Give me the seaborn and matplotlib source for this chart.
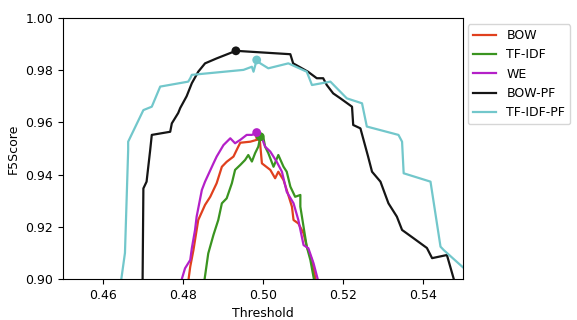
import pandas as pd
import seaborn as sns
import matplotlib.pyplot as plt

# series (threshold, F5 score)
bow_x = [0.4813, 0.4818, 0.4826, 0.4838, 0.4855, 0.4868, 0.4884, 0.4897, 0.4909, 0.4926,
         0.4938, 0.4943, 0.4968, 0.4984, 0.4991, 0.4997, 0.5018, 0.5030, 0.5038, 0.5051,
         0.5059, 0.5072, 0.5076, 0.5088, 0.5101, 0.5109, 0.5122, 0.5132]
bow_y = [0.899, 0.9047, 0.9111, 0.9226, 0.9284, 0.9315, 0.9367, 0.9430, 0.9449, 0.9469,
         0.9507, 0.9522, 0.9526, 0.9533, 0.9545, 0.9443, 0.9418, 0.9386, 0.9411, 0.9379,
         0.9341, 0.9277, 0.9226, 0.9213, 0.9175, 0.9124, 0.9073, 0.899]

tfidf_x = [0.4853, 0.4863, 0.4876, 0.4888, 0.4897, 0.4909, 0.4922, 0.4930, 0.4943, 0.4955,
           0.4963, 0.4972, 0.4980, 0.4988, 0.4993, 0.5001, 0.5005, 0.5013, 0.5026, 0.5038,
           0.5051, 0.5059, 0.5068, 0.5080, 0.5093, 0.5093, 0.5101, 0.5109, 0.5118, 0.5128]
tfidf_y = [0.899, 0.9098, 0.9169, 0.9226, 0.9290, 0.9309, 0.9367, 0.9418, 0.9437, 0.9456,
           0.9475, 0.9450, 0.9482, 0.9507, 0.9545, 0.9539, 0.9507, 0.9482, 0.9430, 0.9475,
           0.9430, 0.9411, 0.9354, 0.9315, 0.9322, 0.9277, 0.9200, 0.9124, 0.9073, 0.899]

we_x = [0.4795, 0.4805, 0.4818, 0.4822, 0.4830, 0.4834, 0.4847, 0.4855, 0.4876, 0.4884,
        0.4901, 0.4918, 0.4930, 0.4943, 0.4959, 0.4972, 0.4984, 0.4997, 0.5005, 0.5018,
        0.5034, 0.5047, 0.5059, 0.5076, 0.5088, 0.5101, 0.5113, 0.5126, 0.5138]
we_y = [0.899, 0.9041, 0.9073, 0.9118, 0.9188, 0.9239, 0.9341, 0.9373, 0.9443, 0.9469,
        0.9513, 0.9539, 0.9520, 0.9533, 0.9552, 0.9552, 0.9561, 0.9539, 0.9507, 0.9488,
        0.9449, 0.9411, 0.9334, 0.9290, 0.9226, 0.9130, 0.9118, 0.9060, 0.899]

bowpf_x = [0.4699, 0.4701, 0.4709, 0.4718, 0.4722, 0.4768, 0.4772, 0.4788, 0.4793, 0.4809,
           0.4822, 0.4838, 0.4855, 0.4884, 0.4932, 0.5068, 0.5075, 0.5112, 0.5134, 0.5150,
           0.5159, 0.5175, 0.5193, 0.5222, 0.5225, 0.5243, 0.5262, 0.5272, 0.5293, 0.5313,
           0.5334, 0.5347, 0.5375, 0.5409, 0.5422, 0.5459, 0.5478]
bowpf_y = [0.899, 0.9347, 0.9373, 0.9494, 0.9552, 0.9564, 0.9596, 0.9636, 0.9655, 0.9700,
           0.9750, 0.9794, 0.9826, 0.9845, 0.9874, 0.9861, 0.9826, 0.9794, 0.9769, 0.9769,
           0.9743, 0.9711, 0.9692, 0.9660, 0.9590, 0.9577, 0.9470, 0.9411, 0.9373, 0.9290,
           0.9239, 0.9188, 0.9157, 0.9119, 0.9080, 0.9092, 0.899]

tfidfpf_x = [0.4645, 0.4655, 0.4663, 0.4663, 0.4701, 0.4722, 0.4743, 0.4813, 0.4818, 0.4822,
             0.4951, 0.4972, 0.4976, 0.4984, 0.4993, 0.5013, 0.5063, 0.5109, 0.5122, 0.5168,
             0.5209, 0.5247, 0.5259, 0.5338, 0.5347, 0.5351, 0.5418, 0.5443, 0.5451, 0.5488,
             0.5510]
tfidfpf_y = [0.899, 0.9100, 0.9494, 0.9526, 0.9647, 0.9660, 0.9737, 0.9756, 0.9769, 0.9782,
             0.9801, 0.9813, 0.9794, 0.9839, 0.9826, 0.9807, 0.9826, 0.9794, 0.9743, 0.9756,
             0.9692, 0.9673, 0.9584, 0.9552, 0.9526, 0.9405, 0.9373, 0.9124, 0.9111, 0.9060,
             0.9030]

# best point of each series
best_name = ["BOW", "TF-IDF", "WE", "BOW-PF", "TF-IDF-PF"]
best_x = [0.4991, 0.4993, 0.4984, 0.4932, 0.4984]
best_y = [0.9545, 0.9545, 0.9561, 0.9874, 0.9839]

palette = {
    "BOW": "#e0401e",
    "TF-IDF": "#3a9420",
    "WE": "#b420c8",
    "BOW-PF": "#151515",
    "TF-IDF-PF": "#72c7cb",
}

series = {
    "BOW": (bow_x, bow_y),
    "TF-IDF": (tfidf_x, tfidf_y),
    "WE": (we_x, we_y),
    "BOW-PF": (bowpf_x, bowpf_y),
    "TF-IDF-PF": (tfidfpf_x, tfidfpf_y),
}
frames = []
for name, (xs, ys) in series.items():
    frames.append(pd.DataFrame({"Threshold": xs, "F5Score": ys, "Model": name}))
df = pd.concat(frames, ignore_index=True)
best = pd.DataFrame({"Threshold": best_x, "F5Score": best_y, "Model": best_name})

plt.rcParams["font.size"] = 9

fig, ax = plt.subplots(figsize=(5.77, 3.2), dpi=100)
fig.subplots_adjust(left=0.109, right=0.803, top=0.944, bottom=0.128)

sns.lineplot(
    data=df, x="Threshold", y="F5Score", hue="Model", palette=palette,
    sort=False, estimator=None, linewidth=1.6, ax=ax,
)
sns.scatterplot(
    data=best, x="Threshold", y="F5Score", hue="Model", palette=palette,
    s=40, edgecolor="none", legend=False, ax=ax, zorder=5,
)

ax.set(xlim=(0.45, 0.55), ylim=(0.90, 1.00))
ax.set_xticks([0.46, 0.48, 0.50, 0.52, 0.54])
ax.legend(loc="upper left", bbox_to_anchor=(0.995, 1.0), title=None,
          handlelength=1.9)

fig.savefig("out.png", dpi=100)
